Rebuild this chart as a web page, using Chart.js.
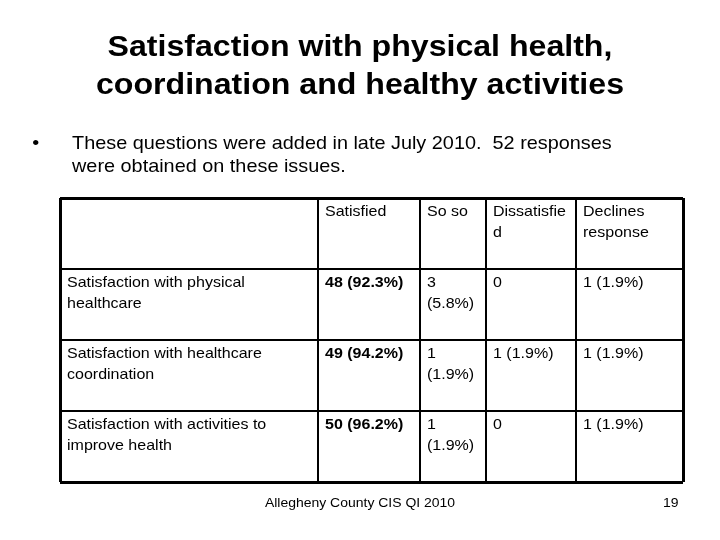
<!DOCTYPE html>
<html>
<head>
<meta charset="utf-8">
<script src="https://cdn.jsdelivr.net/npm/chart.js@4/dist/chart.umd.min.js"></script>
<style>
  html, body { margin: 0; padding: 0; background: #fff; }
  body { width: 720px; height: 540px; position: relative; overflow: hidden; font-family: 'Liberation Sans', Arial, sans-serif; color: #000; }
  #title { position: absolute; left: 0; top: 27px; width: 720px; text-align: center; font-weight: bold; font-size: 30px; line-height: 38px; transform: scaleX(1.07); transform-origin: 360px 0; }
  #bullet { position: absolute; left: 72px; top: 131px; width: 530px; font-size: 19px; line-height: 23px; transform: scaleX(1.045); transform-origin: 0 0; }
  #bullet .dot { position: absolute; left: -38px; top: 0; }
  #footer { position: absolute; left: 0; top: 495px; width: 720px; text-align: center; font-size: 13px; transform: scaleX(1.074); transform-origin: 360px 0; }
  #page { position: absolute; left: 663px; top: 495px; font-size: 13px; transform: scaleX(1.074); transform-origin: 0 0; }
  canvas { position: absolute; left: 0; top: 0; }
</style>
</head>
<body>
<canvas id="table" width="720" height="540"></canvas>
<div id="title">Satisfaction with physical health,<br>coordination and healthy activities</div>
<div id="bullet"><span class="dot">•</span>These questions were added in late July 2010.&nbsp; 52 responses were obtained on these issues.</div>
<div id="footer">Allegheny County CIS QI 2010</div>
<div id="page">19</div>
<script>
// table contents
const columns = ['Satisfied', 'So so', 'Dissatisfied', 'Declines response'];
const rowLabels = [
  'Satisfaction with physical healthcare',
  'Satisfaction with healthcare coordination',
  'Satisfaction with activities to improve health'
];
const satisfiedCount = [48, 49, 50];
const satisfiedPct = [92.3, 94.2, 96.2];
const sosoCount = [3, 1, 1];
const sosoPct = [5.8, 1.9, 1.9];
const dissatisfiedCount = [0, 1, 0];
const dissatisfiedPct = [null, 1.9, null];
const declinesCount = [1, 1, 1];
const declinesPct = [1.9, 1.9, 1.9];

// layout: column widths in px
const colWidths = [258, 102, 66, 90, 107];
const colEdges = colWidths.reduce((a, w) => { a.push(a[a.length - 1] + w); return a; }, [0]);
const totalW = colEdges[colEdges.length - 1];
const nRows = rowLabels.length + 1;
const stretch = 1.067; // slide text is a little wider than plain Arial

function cellText(count, pct) {
  return pct == null ? String(count) : count + ' (' + pct.toFixed(1) + '%)';
}

const body = rowLabels.map((label, i) => [
  label,
  cellText(satisfiedCount[i], satisfiedPct[i]),
  cellText(sosoCount[i], sosoPct[i]),
  cellText(dissatisfiedCount[i], dissatisfiedPct[i]),
  cellText(declinesCount[i], declinesPct[i])
]);
const cells = [[''].concat(columns)].concat(body);

function wrap(ctx, text, maxW) {
  const w = s => ctx.measureText(s).width * stretch;
  const lines = [];
  let line = '';
  text.split(' ').forEach(word => {
    const test = line ? line + ' ' + word : word;
    if (w(test) <= maxW) { line = test; return; }
    if (line) lines.push(line);
    // break very long words by characters
    let chunk = '';
    for (const ch of word) {
      if (w(chunk + ch) > maxW && chunk) { lines.push(chunk); chunk = ch; }
      else chunk += ch;
    }
    line = chunk;
  });
  if (line) lines.push(line);
  return lines;
}

const cellTextPlugin = {
  id: 'cellText',
  afterDraw(chart) {
    const ctx = chart.ctx;
    const xs = chart.scales.x, ys = chart.scales.y;
    ctx.save();
    ctx.fillStyle = '#000';
    ctx.textBaseline = 'alphabetic';
    cells.forEach((row, r) => {
      row.forEach((txt, c) => {
        if (!txt) return;
        const left = xs.getPixelForValue(colEdges[c]);
        const right = xs.getPixelForValue(colEdges[c + 1]);
        const top = ys.getPixelForValue(r);
        const bold = r > 0 && c === 1;
        ctx.font = (bold ? 'bold ' : '') + '15px "Liberation Sans", Arial, sans-serif';
        const lines = wrap(ctx, txt, right - left - 14);
        lines.forEach((ln, k) => {
          ctx.save();
          ctx.translate(left + 7, top + 18 + k * 20.5);
          ctx.scale(stretch, 1);
          ctx.fillText(ln, 0, 0);
          ctx.restore();
        });
      });
    });
    ctx.restore();
  }
};

function edgeWidth(ctx, max) {
  const v = ctx.tick ? ctx.tick.value : 0;
  return (v === 0 || v === max) ? 3 : 2;
}

new Chart(document.getElementById('table'), {
  type: 'scatter',
  data: { datasets: [{ data: [] }] },
  options: {
    responsive: false,
    animation: false,
    layout: { padding: { left: 60, top: 198, right: 720 - 60 - totalW, bottom: 540 - 482 } },
    plugins: { legend: { display: false }, tooltip: { enabled: false } },
    scales: {
      x: {
        type: 'linear', min: 0, max: totalW,
        afterBuildTicks: s => { s.ticks = colEdges.map(v => ({ value: v })); },
        ticks: { display: false },
        border: { display: false },
        grid: { color: '#000', drawTicks: false, lineWidth: ctx => edgeWidth(ctx, totalW) }
      },
      y: {
        type: 'linear', min: 0, max: nRows, reverse: true,
        afterBuildTicks: s => { s.ticks = Array.from({ length: nRows + 1 }, (_, i) => ({ value: i })); },
        ticks: { display: false },
        border: { display: false },
        grid: { color: '#000', drawTicks: false, lineWidth: ctx => edgeWidth(ctx, nRows) }
      }
    }
  },
  plugins: [cellTextPlugin]
});
</script>
</body>
</html>
